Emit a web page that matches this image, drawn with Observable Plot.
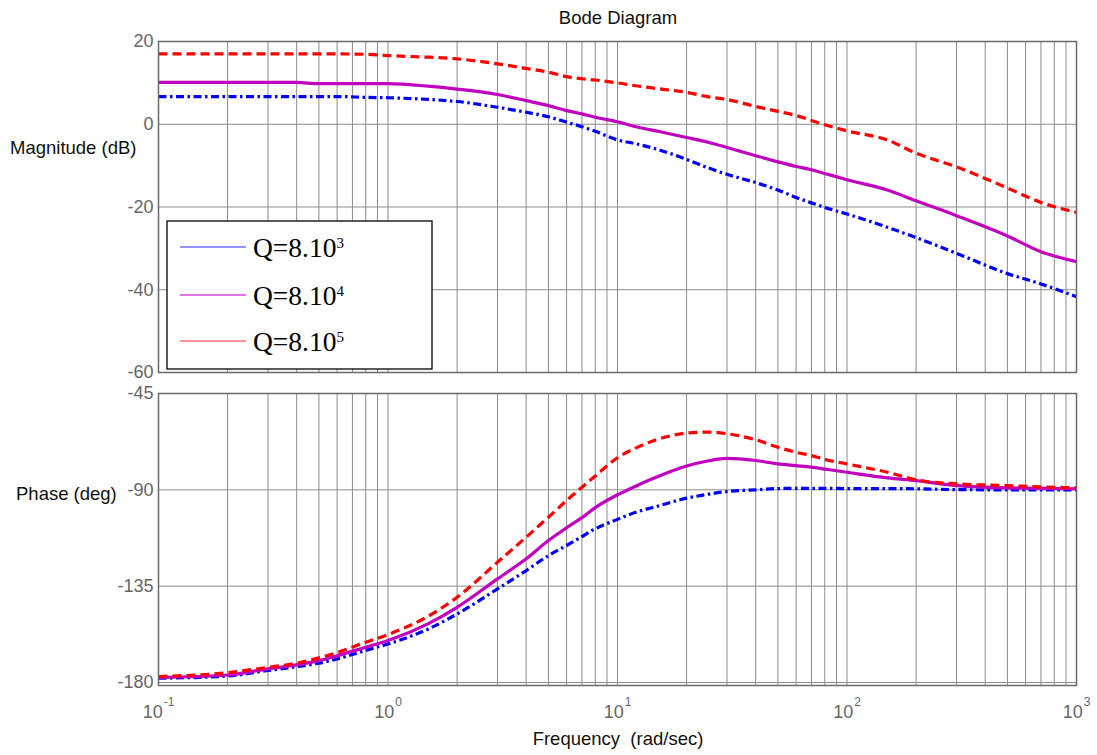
<!DOCTYPE html>
<html><head><meta charset="utf-8">
<script src="https://cdn.jsdelivr.net/npm/d3@7"></script>
<script src="https://cdn.jsdelivr.net/npm/@observablehq/plot@0.6"></script>
<style>
body{margin:0;background:#fff;}
#wrap{position:relative;width:1097px;height:755px;font-family:"Liberation Sans",Arial,sans-serif;overflow:hidden;}
#wrap > svg{position:absolute;left:0;}
</style></head><body><div id="wrap"></div>
<script>
// ---------- data ----------
const freq = [0.1, 0.2, 0.3, 0.4, 0.5, 0.6, 0.8, 1, 1.5, 2, 3, 4, 5, 6, 7, 8, 10, 12, 15, 20, 25, 30, 40, 50, 60, 70, 80, 100, 150, 200, 300, 500, 700, 1000];

const magQ3 = [6.7, 6.7, 6.7, 6.7, 6.7, 6.7, 6.5, 6.4, 6.0, 5.5, 4.1, 2.9, 1.8, 0.5, -0.6, -1.7, -3.8, -4.7, -6.1, -8.5, -10.6, -12.1, -14.1, -15.9, -17.7, -19.0, -20.1, -21.7, -24.9, -27.4, -31.2, -36.1, -38.6, -41.7];
const magQ4 = [10.1, 10.1, 10.1, 10.1, 9.8, 9.8, 9.8, 9.8, 9.2, 8.5, 7.2, 5.7, 4.5, 3.3, 2.5, 1.7, 0.6, -0.6, -1.7, -3.2, -4.4, -5.6, -7.6, -9.1, -10.2, -11.0, -11.9, -13.4, -15.9, -18.5, -22.1, -27.0, -30.8, -33.2];
const magQ5 = [17.0, 17.0, 17.0, 17.0, 17.0, 17.0, 16.9, 16.6, 16.2, 15.8, 14.6, 13.5, 12.6, 11.5, 11.0, 10.7, 10.0, 9.3, 8.6, 7.7, 6.6, 6.0, 4.3, 3.1, 2.1, 0.9, -0.1, -1.6, -3.8, -7.0, -10.3, -15.4, -18.9, -21.3];

const phaseQ3 = [-178, -177, -174.4, -172.6, -171, -169, -165, -162, -155, -148, -136.3, -127.7, -120.7, -116, -111.8, -108.2, -103.8, -100.5, -97.6, -93.9, -92.0, -90.8, -90, -89.4, -89.3, -89.3, -89.3, -89.4, -89.4, -89.5, -89.9, -90, -90, -90];
const phaseQ4 = [-177.7, -176.5, -173.6, -171.8, -169.8, -167.5, -163.5, -160.4, -152.5, -144.9, -131.6, -122.2, -113.7, -107.7, -103, -98.3, -92.3, -88.3, -83.8, -78.9, -76.4, -75.3, -76.3, -77.9, -78.7, -79.4, -80.3, -81.8, -84.4, -85.7, -88, -89.1, -89.3, -89.5];
const phaseQ5 = [-177.2, -175.4, -172.9, -171, -168.5, -166, -161.2, -157.6, -149, -140.2, -123.8, -112.1, -102.8, -95, -88.8, -83.5, -75.0, -70.5, -66.4, -63.5, -63.0, -63.8, -66.6, -70.1, -72.5, -74, -75.8, -77.9, -81.8, -85.3, -87.2, -88, -88.6, -89.1];

const seriesNames = ["Q=8.10|3", "Q=8.10|4", "Q=8.10|5"];
const magTicks = [-60, -40, -20, 0, 20];
const phaseTicks = [-180, -135, -90, -45];
const decadeTicks = [0.1, 1, 10, 100, 1000];
const decadeExp = ["-1", "0", "1", "2", "3"];

// ---------- styles ----------
const styles = [
  {stroke: "#0000ff", dash: "8,3.5,2.5,3.5", legend: "#6f6fff"},
  {stroke: "#bf00bf", dash: null, legend: "#dd44dd"},
  {stroke: "#ff0000", dash: "9,5", legend: "#ff7070"}
];
const magSeries = [magQ3, magQ4, magQ5];
const phaseSeries = [phaseQ3, phaseQ4, phaseQ5];

const minorTicks = d3.range(-1, 3).flatMap(e => d3.range(1, 10).map(m => +(m * Math.pow(10, e)).toPrecision(6))).concat([1000]);

const gridColor = "#8c8c8c";
const frameColor = "#6a6a6a";
const labelColor = "#666";

function seriesLines(valueSets) {
  return valueSets.map((vals, k) => Plot.line(freq.map((f, i) => ({f, v: vals[i]})), {
    x: "f", y: "v", stroke: styles[k].stroke, strokeWidth: 3.2, curve: "monotone-x",
    strokeDasharray: styles[k].dash, strokeLinejoin: "round", strokeLinecap: "butt"
  }));
}

const xScale = {type: "log", domain: [0.1, 1000], axis: null};
const fontStyle = {fontFamily: "'Liberation Sans', Arial, sans-serif", fontSize: "18px", background: "transparent", overflow: "visible"};

const magPlot = Plot.plot({
  width: 1097, height: 373,
  marginLeft: 158, marginRight: 21, marginTop: 41, marginBottom: 1,
  style: fontStyle,
  x: xScale,
  y: {domain: [-60, 20]},
  marks: [
    Plot.ruleX(minorTicks, {stroke: gridColor, strokeWidth: 1}),
    Plot.ruleY(magTicks, {stroke: gridColor, strokeWidth: 1}),
    ...seriesLines(magSeries),
    Plot.frame({stroke: frameColor, strokeWidth: 1.5}),
    Plot.axisY(magTicks, {tickSize: 0, tickPadding: 5, tickFormat: d => String(d), color: labelColor, fontSize: 18, label: null})
  ]
});
magPlot.style.top = "0px";

const phasePlot = Plot.plot({
  width: 1097, height: 375,
  marginLeft: 158, marginRight: 21, marginTop: 13, marginBottom: 70,
  style: fontStyle,
  x: xScale,
  y: {domain: [-181.4, -45]},
  marks: [
    Plot.ruleX(minorTicks, {stroke: gridColor, strokeWidth: 1}),
    Plot.ruleY(phaseTicks, {stroke: gridColor, strokeWidth: 1}),
    ...seriesLines(phaseSeries),
    Plot.frame({stroke: frameColor, strokeWidth: 1.5}),
    Plot.axisY(phaseTicks, {tickSize: 0, tickPadding: 5, tickFormat: d => String(d), color: labelColor, fontSize: 18, label: null}),
    Plot.text(decadeTicks, {x: d => d, text: (d, i) => "10^" + decadeExp[i], frameAnchor: "bottom", dy: 32, lineAnchor: "bottom", fontSize: 18, fill: labelColor})
  ]
});
phasePlot.style.top = "380px";

// superscript exponents on decade labels
d3.select(phasePlot).selectAll("text").each(function() {
  const t = this.textContent;
  if (t.startsWith("10^")) {
    const exp = t.slice(3);
    this.textContent = "";
    const s = d3.select(this);
    s.append("tspan").text("10");
    s.append("tspan").attr("dy", -12).attr("font-size", 12).attr("dx", 1).text(exp);
  }
});

const wrap = document.getElementById("wrap");
wrap.appendChild(magPlot);
wrap.appendChild(phasePlot);

// ---------- overlay: titles, axis labels, legend ----------
const ov = d3.select(wrap).append("svg")
  .attr("width", 1097).attr("height", 755)
  .style("top", "0px").style("pointer-events", "none")
  .attr("font-family", "'Liberation Sans', Arial, sans-serif");

ov.append("text").attr("x", 618).attr("y", 24).attr("text-anchor", "middle").attr("font-size", 18.5).attr("fill", "#111").text("Bode Diagram");
ov.append("text").attr("x", 10).attr("y", 154).attr("font-size", 18.5).attr("fill", "#111").text("Magnitude (dB)");
ov.append("text").attr("x", 16).attr("y", 500).attr("font-size", 18.5).attr("fill", "#111").text("Phase (deg)");
ov.append("text").attr("x", 618).attr("y", 745).attr("text-anchor", "middle").attr("font-size", 18.5).attr("fill", "#111")
  .attr("xml:space", "preserve").style("white-space", "pre").text("Frequency  (rad/sec)");

// legend box
const lg = ov.append("g");
lg.append("rect").attr("x", 167).attr("y", 221).attr("width", 265).attr("height", 148)
  .attr("fill", "#fff").attr("stroke", "#000").attr("stroke-width", 1.3);
const rowsY = [247, 295, 341];
seriesNames.forEach((name, k) => {
  const [base, exp] = name.split("|");
  lg.append("line").attr("x1", 180).attr("x2", 246).attr("y1", rowsY[k]).attr("y2", rowsY[k])
    .attr("stroke", styles[k].legend).attr("stroke-width", 1.5);
  const tx = lg.append("text").attr("x", 253).attr("y", rowsY[k] + 10)
    .attr("font-family", "'Liberation Serif', 'Times New Roman', serif").attr("font-size", 27.5).attr("fill", "#000");
  tx.append("tspan").text(base);
  tx.append("tspan").attr("dy", -9).attr("font-size", 15).text(exp);
});
</script>
</body></html>
